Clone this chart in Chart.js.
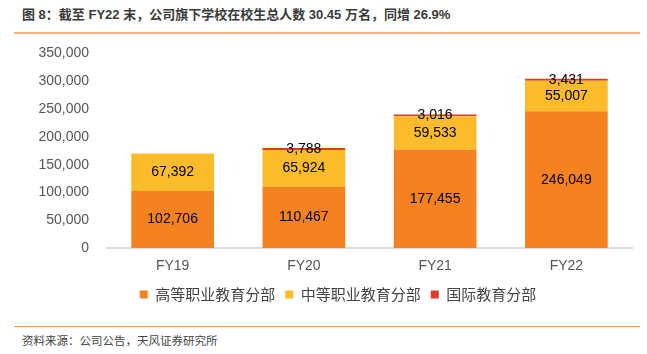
<!DOCTYPE html>
<html>
<head>
<meta charset="utf-8">
<script src="https://cdn.jsdelivr.net/npm/chart.js@4"></script>
<style>
  body { margin: 0; background: #fff; }
  #wrap { position: relative; width: 647px; height: 354px; overflow: hidden; }
  #title { position: absolute; left: 22px; top: 4px; font: bold 13px "Liberation Sans", "Noto Sans CJK SC", sans-serif; color: #3a3a3a; }
  #topline { position: absolute; left: 14px; top: 32px; width: 626px; height: 2px; background: #F6B27A; }
  #botline { position: absolute; left: 14px; top: 326px; width: 626px; height: 1px; background: #E09A62; }
  #source { position: absolute; left: 22px; top: 332px; font: 11.5px "Noto Sans CJK SC", sans-serif; color: #444; }
  #box { position: absolute; left: 0; top: 27px; width: 647px; height: 285px; }
</style>
</head>
<body>
<div id="wrap">
  <div id="title">图 8：截至 FY22 末，公司旗下学校在校生总人数 30.45 万名，同增 26.9%</div>
  <div id="topline"></div>
  <div id="box"><canvas id="chart"></canvas></div>
  <div id="botline"></div>
  <div id="source">资料来源：公司公告，天风证券研究所</div>
</div>
<script>
const years = ['FY19', 'FY20', 'FY21', 'FY22'];
const higherEdu = [102706, 110467, 177455, 246049];
const secondaryEdu = [67392, 65924, 59533, 55007];
const intlEdu = [null, 3788, 3016, 3431];

// 在每段柱子中心写数值
const segLabels = {
    id: 'segLabels',
    afterDatasetsDraw(chart) {
        const ctx = chart.ctx;
        ctx.save();
        ctx.font = '14px "Liberation Sans", Arial, sans-serif';
        ctx.fillStyle = '#000';
        ctx.textAlign = 'center';
        ctx.textBaseline = 'middle';
        chart.data.datasets.forEach((ds, i) => {
            const meta = chart.getDatasetMeta(i);
            meta.data.forEach((bar, j) => {
                const v = ds.data[j];
                if (v == null) return;
                const y = (bar.y + bar.base) / 2;
                ctx.fillText(v.toLocaleString('en-US'), bar.x, y);
            });
        });
        ctx.restore();
    }
};

// 图例在原图里偏右一点
const legendShift = {
    id: 'legendShift',
    afterLayout(chart) {
        if (chart.legend) chart.legend.left = 44;
    }
};

const ctx = document.getElementById('chart').getContext('2d');
new Chart(ctx, {
    type: 'bar',
    data: {
        labels: years,
        datasets: [
            { label: '高等职业教育分部', data: higherEdu, backgroundColor: '#F58220' },
            { label: '中等职业教育分部', data: secondaryEdu, backgroundColor: '#FBBC2C' },
            { label: '国际教育分部', data: intlEdu, backgroundColor: '#DE3A2A' }
        ]
    },
    options: {
        responsive: true,
        maintainAspectRatio: false,
        animation: false,
        barPercentage: 0.63,
        categoryPercentage: 1,
        layout: { padding: { left: 0, right: 15, top: 0, bottom: 0 } },
        plugins: {
            legend: {
                position: 'bottom',
                labels: {
                    boxWidth: 8,
                    boxHeight: 8,
                    padding: 10,
                    color: '#444',
                    font: { size: 15, family: '"Noto Sans CJK SC", sans-serif' }
                }
            },
            tooltip: { enabled: false }
        },
        scales: {
            x: {
                stacked: true,
                grid: { display: false },
                border: { color: '#DDDDDD', width: 2 },
                ticks: { color: '#555', padding: 2, font: { size: 14, family: '"Liberation Sans", Arial, sans-serif' } }
            },
            y: {
                stacked: true,
                min: 0,
                max: 350000,
                grid: { display: false, drawTicks: false },
                border: { display: false },
                afterFit(scale) { scale.width = 107; },
                ticks: {
                    stepSize: 50000,
                    padding: 18,
                    color: '#555',
                    font: { size: 14, family: '"Liberation Sans", Arial, sans-serif' },
                    callback: v => v.toLocaleString('en-US')
                }
            }
        }
    },
    plugins: [segLabels, legendShift]
});
</script>
</body>
</html>
